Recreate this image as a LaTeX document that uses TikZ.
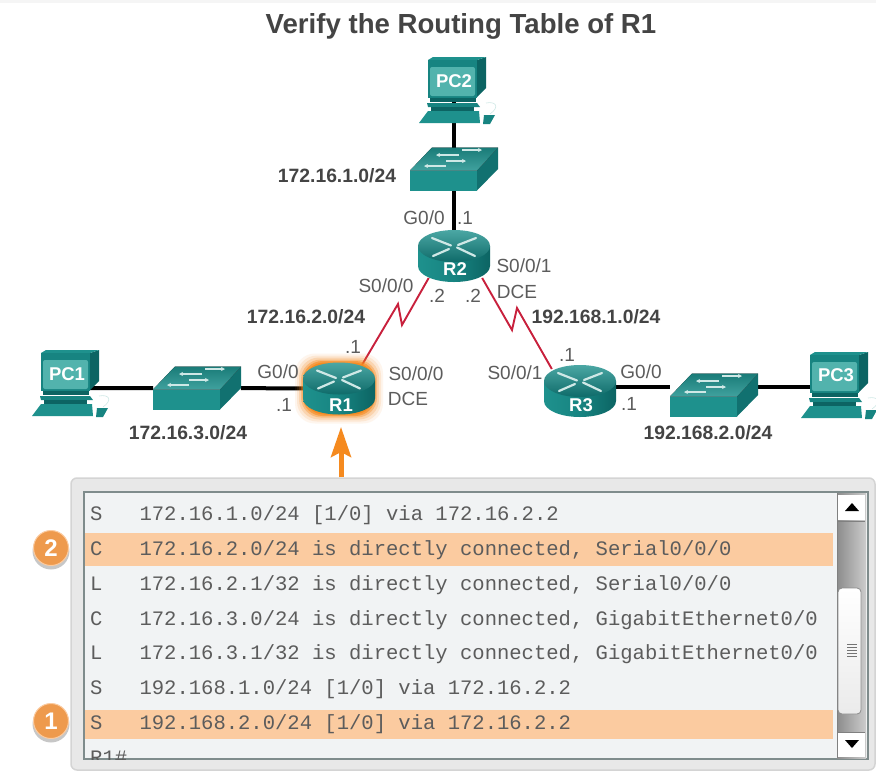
\documentclass[tikz,border=0pt]{standalone}
\usepackage{fontspec}
\setmainfont{Liberation Sans}
\setmonofont{Liberation Mono}
\usetikzlibrary{arrows.meta,calc}
\definecolor{tealA}{HTML}{1E918D}
\definecolor{tealB}{HTML}{0C6463}
\definecolor{tealC}{HTML}{52B3AD}
\definecolor{tealD}{HTML}{178481}
\definecolor{iconW}{HTML}{CFE8E6}
\definecolor{txtA}{HTML}{5C5C5C}
\definecolor{txtB}{HTML}{444444}
\definecolor{hiOr}{HTML}{FBCBA0}
\definecolor{orA}{HTML}{F58A1F}
\definecolor{badge}{HTML}{EE9A4D}
\definecolor{serialRed}{HTML}{C8203C}
\definecolor{scrBg}{HTML}{F1F3F4}
\definecolor{scrEdge}{HTML}{7F8C8C}
\tikzset{
  x=1pt,y=-1pt,
  anchorbox/.style={inner sep=0pt,outer sep=0pt,minimum width=#1},
  routerbox/.style={anchorbox=72,minimum height=44},
  switchbox/.style={anchorbox=88,minimum height=43},
  pcbox/.style={anchorbox=40,minimum height=20},
  eth/.style={line width=4pt,black},
  serial/.style={line width=1.9pt,serialRed,line join=miter},
  lbl/.style={inner sep=0pt,text=txtA,font=\fontsize{19}{22}\selectfont},
  net/.style={inner sep=0pt,text=txtB,font=\fontsize{19.3}{22}\selectfont\bfseries},
  devname/.style={inner sep=0pt,text=white,font=\fontsize{18.5}{22}\selectfont\bfseries},
  cli/.style={inner sep=0pt,anchor=west,text=txtA,font=\fontsize{20.55}{24}\selectfont\ttfamily},
  badgecirc/.style={circle,minimum size=35pt,inner sep=0pt,fill=badge,draw=hiOr,line width=1pt,text=white,font=\fontsize{24}{26}\selectfont\bfseries},
  routerIcon/.pic={
    \path[left color=tealA,right color=tealB,middle color=tealD]
      (-36,-10) -- (-36,10) .. controls (-36,19) and (-20,26) .. (0,26)
      .. controls (20,26) and (36,19) .. (36,10) -- (36,-10) -- cycle;
    \path[top color=tealA!80!white,bottom color=tealB!85!tealA] (-36,-10)
      .. controls (-36,-19) and (-20,-26) .. (0,-26) .. controls (20,-26) and (36,-19) .. (36,-10)
      .. controls (36,-1) and (20,6) .. (0,6) .. controls (-20,6) and (-36,-1) .. (-36,-10) -- cycle;
    \foreach \a/\b/\c/\d in {-22/-18/-3/-10.5,22/-18/4/-11,-21/0/-5/-7,3/-8.5/21/0}{
      \draw[iconW,line width=2.2pt,line cap=round] (\a,\b) -- (\c,\d);
    }
  },
  switchIcon/.pic={
    \fill[tealA] (-44,1.5) rectangle (23,21.5);
    \fill[tealB!70!tealA] (23,1.5) -- (44,-21.5) -- (44,0) -- (23,21.5) -- cycle;
    \fill[top color=tealA!85!black,bottom color=tealA!85!white] (-44,1.5) -- (-22,-21.5) -- (44,-21.5) -- (23,1.5) -- cycle;
    \foreach \a/\b/\c/\d in {-8/-3/-30/-3,-8/-8/12/-8,5/-14/-18/-14,8/-19/28/-19}{
      \draw[iconW,line width=1.2pt,-{Stealth[length=4pt,width=4pt]}] (\a,\b) -- (\c,\d);
    }
  },
  pcIcon/.pic={
    \draw[iconW,line width=.6pt] (58,46) .. controls (68,44) and (72,50) .. (62,57);
    \fill[tealB] (49,3) -- (58,0) -- (58,31) -- (49,40) -- cycle;
    \fill[tealA] (0,3) -- (5,0) -- (58,0) -- (49,3) -- cycle;
    \fill[tealD] (0,3) rectangle (49,41);
    \fill[tealC,rounded corners=2pt] (2,10) rectangle (47,39);
    \fill[tealB] (2,41) rectangle (48,45);
    \fill[tealD] (-1,46) -- (49,46) -- (52,50) -- (0,50) -- cycle;
    \fill[tealB] (3,50) rectangle (46,54);
    \fill[tealA] (0,54) -- (51,54) -- (52,66) -- (-9,66) -- cycle;
    \fill[tealD] (56,58) -- (67,58) -- (62,67) -- (55,67) -- cycle;
  },
}
\begin{document}
\begin{tikzpicture}
\useasboundingbox (0,0) rectangle (876,772);
\fill[white] (0,0) rectangle (876,772);
\fill[black!4] (0,0) rectangle (876,3);
\node[inner sep=0pt,text=txtB,font=\fontsize{27.6}{30}\selectfont\bfseries] (title) at (461,26) {Verify the Routing Table of R1};
% anchors of the devices
\node[pcbox] (pc1) at (70,388) {};
\node[pcbox] (pc2) at (454,90) {};
\node[pcbox] (pc3) at (840,387) {};
\node[switchbox] (s1) at (197,388) {};
\node[switchbox] (s2) at (454,169) {};
\node[switchbox] (s3) at (714,387) {};
\node[routerbox] (r1) at (339,388.5) {};
\node[routerbox] (r2) at (454,256) {};
\node[routerbox] (r3) at (580,391) {};
\coordinate (zl1) at (402,325);
\coordinate (zl2) at (398,304);
\coordinate (zr1) at (512,330);
\coordinate (zr2) at (517,308);
\coordinate (tip) at (341,427);
% connectors
\draw[eth] (pc1) -- (s1) -- (r1);
\draw[eth] (pc2) -- (s2) -- (r2);
\draw[eth] (r3 |- s3) -- (s3) -- (pc3);
\draw[serial] (r2.-139) -- (zl1) -- (zl2) -- (r1.45);
\draw[serial] (r2.-38) -- (zr1) -- (zr2) -- (r3.142);
% glow of R1
\foreach \g/\o in {10/.08,8/.12,6/.2,4/.35,2.5/.6,1/.9}{
  \fill[orA,opacity=\o,rounded corners=20pt] ($(r1)+(-34-\g,-25-\g)$) rectangle ($(r1)+(34+\g,25+\g)$);
}
% icons
\pic at (r1) {routerIcon};
\pic at (r2) {routerIcon};
\pic at (r3) {routerIcon};
\pic at (s1) {switchIcon};
\pic at (s2) {switchIcon};
\pic at ($(s3)+(0,8)$) {switchIcon};
\pic at (41,350) {pcIcon};
\pic at (428,57) {pcIcon};
\pic at (810,352) {pcIcon};
% device names
\node[devname] (nr1) at (341,405) {R1};
\node[devname] (nr2) at (455,269) {R2};
\node[devname] (nr3) at (581,405) {R3};
\node[devname] (npc1) at (67,374) {PC1};
\node[devname] (npc2) at (454,81) {PC2};
\node[devname] (npc3) at (836,375) {PC3};
% port labels
\node[lbl] (a1) at (424,218) {G0/0};
\node[lbl] (a2) at (465,218) {.1};
\node[lbl] (a3) at (524,266) {S0/0/1};
\node[lbl] (a4) at (517,292) {DCE};
\node[lbl] (a5) at (386,286) {S0/0/0};
\node[lbl] (a6) at (437,296) {.2};
\node[lbl] (a7) at (473,296) {.2};
\node[lbl] (b1) at (353,347) {.1};
\node[lbl] (b2) at (278,372) {G0/0};
\node[lbl] (b3) at (284,405) {.1};
\node[lbl] (b4) at (416,374) {S0/0/0};
\node[lbl] (b5) at (408,399) {DCE};
\node[lbl] (c1) at (515,373) {S0/0/1};
\node[lbl] (c2) at (567,355) {.1};
\node[lbl] (c3) at (641,372) {G0/0};
\node[lbl] (c4) at (629,404) {.1};
% networks
\node[net] (n1) at (337,176) {172.16.1.0/24};
\node[net] (n2) at (306,317) {172.16.2.0/24};
\node[net] (n3) at (596,317) {192.168.1.0/24};
\node[net] (n4) at (188,433) {172.16.3.0/24};
\node[net] (n5) at (708,433) {192.168.2.0/24};
% console panel
\node[inner sep=0pt,minimum width=804pt,minimum height=292pt,fill=black!9,draw=black!17,line width=1.5pt,rounded corners=6pt] (panel) at (473,624) {};
\draw[-{Stealth[length=30pt,width=20pt,inset=5pt]},line width=5pt,orA] (panel.north -| tip) -- (tip);
\node[inner sep=0pt,minimum width=784pt,minimum height=267pt,fill=scrBg,draw=scrEdge,line width=1.5pt] (screen) at (476,625.5) {};
\fill[hiOr] (85,533) rectangle (833,566);
\fill[hiOr] (85,710) rectangle (833,739);
\begin{scope}
\clip (85,493) rectangle (836,759);
\node[cli] (l1) at (90,515) {S\ \ \ 172.16.1.0/24 [1/0] via 172.16.2.2};
\node[cli] (l2) at (90,550) {C\ \ \ 172.16.2.0/24 is directly connected, Serial0/0/0};
\node[cli] (l3) at (90,585) {L\ \ \ 172.16.2.1/32 is directly connected, Serial0/0/0};
\node[cli] (l4) at (90,620) {C\ \ \ 172.16.3.0/24 is directly connected, GigabitEthernet0/0};
\node[cli] (l5) at (90,654) {L\ \ \ 172.16.3.1/32 is directly connected, GigabitEthernet0/0};
\node[cli] (l6) at (90,689) {S\ \ \ 192.168.1.0/24 [1/0] via 172.16.2.2};
\node[cli] (l7) at (90,724) {S\ \ \ 192.168.2.0/24 [1/0] via 172.16.2.2};
\node[cli] (l8) at (90,758) {R1\#};
\end{scope}
% scrollbar
\path[left color=black!45,right color=black!20] (837,493) rectangle (866,758);
\draw[black!50,line width=.8pt] (837,493) -- (837,758);
\fill[white] (838,495) rectangle (865,520);
\fill[white] (838,733) rectangle (865,757);
\draw[black!50,line width=.8pt] (838,521) -- (865,521) (838,732) -- (865,732);
\fill[black] (845,511) -- (852,503) -- (859,511) -- cycle;
\fill[black] (845,740) -- (852,748) -- (859,740) -- cycle;
\path[draw=black!45,line width=.8pt,top color=white,bottom color=black!8,rounded corners=4pt] (838,588) rectangle (861,714);
\foreach \y in {644,647,650,653,656}{\draw[black!55,line width=.9pt] (847,\y) -- (857,\y);}
% badges
\fill[black,opacity=.22] (51,551) circle[radius=18.5];
\fill[black,opacity=.22] (51,724) circle[radius=18.5];
\node[badgecirc] (b-two) at (51,548) {2};
\node[badgecirc] (b-one) at (51,721) {1};
\end{tikzpicture}
\end{document}
